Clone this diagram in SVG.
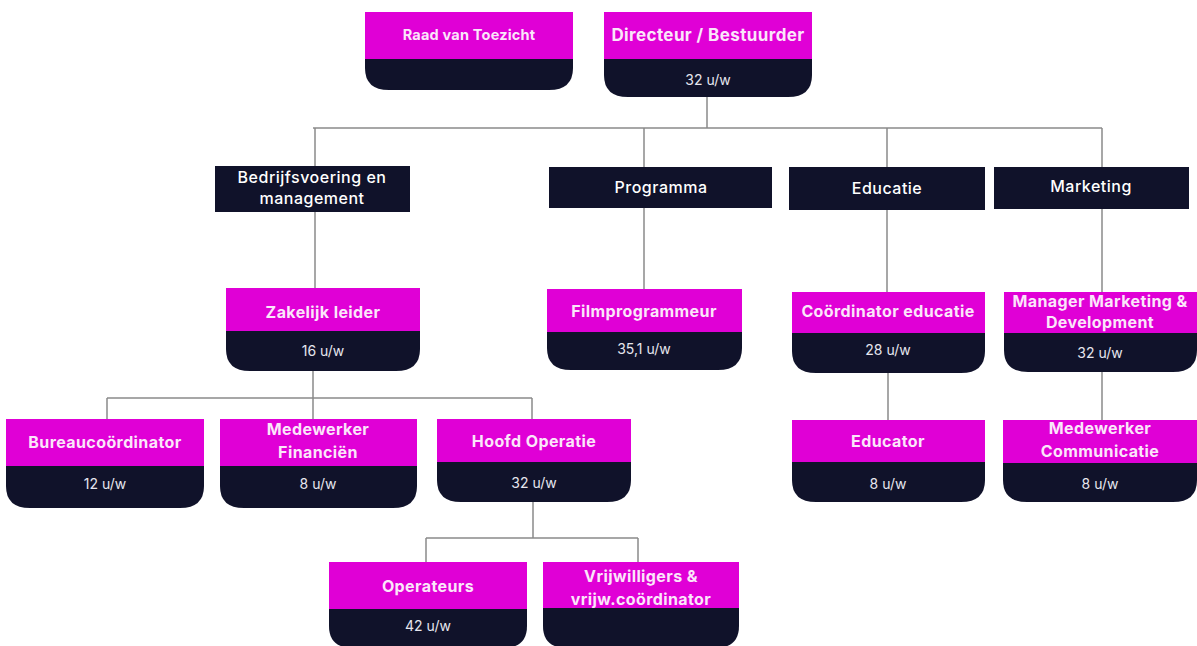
<svg xmlns="http://www.w3.org/2000/svg" width="1197" height="646" viewBox="0 0 1197 646">
<style>
.bg{fill:#ffffff}
.pink{fill:#e000d6}
.dark{fill:#10122a}
.t{font-family:Inter,"Noto Sans","DejaVu Sans",sans-serif;fill:#ffffff;text-anchor:middle}
.pt{font-size:16px;font-weight:700;fill:#fbe6fa;letter-spacing:0.4px}
.ct{font-size:16px;font-weight:500;letter-spacing:0.5px}
.ht{font-size:14px;font-weight:400;fill:#e6e6ee}
.ln{fill:none;stroke:#8a8a8a;stroke-width:1.5}
</style>
<rect class="bg" x="0" y="0" width="1197" height="646"/>
<g id="connectors">
<path class="ln" d="M707 97 V128 M313 128 H1102 M315 128 V167 M644 128 V167 M887 128 V167 M1102 128 V167"/>
<path class="ln" d="M315 212 V288 M644 208 V289 M887 210 V292 M1102 209 V292"/>
<path class="ln" d="M313 371 V398 M107 398 H532 M107 398 V419 M313 398 V419 M532 398 V419"/>
<path class="ln" d="M533 502 V538 M426 538 H638 M426 538 V562 M638 538 V562"/>
<path class="ln" d="M888 373 V420 M1102 372 V420"/>
</g>
<g id="raad">
<rect class="pink" x="365" y="12" width="208" height="47"/>
<path class="dark" d="M365 59 H573 V68 Q573 90 549 90 H389 Q365 90 365 68 Z"/>
<text class="t pt" x="469" y="40" style="font-size:14.5px;letter-spacing:0.2px">Raad van Toezicht</text>
</g>
<g id="directeur">
<rect class="pink" x="604" y="12" width="208" height="47"/>
<path class="dark" d="M604 59 H812 V75 Q812 97 788 97 H628 Q604 97 604 75 Z"/>
<text class="t pt" x="708" y="41" style="font-size:17px">Directeur / Bestuurder</text>
<text class="t ht" x="708" y="85">32 u/w</text>
</g>
<g id="bedrijfsvoering">
<rect class="dark" x="215" y="166" width="195" height="46"/>
<text class="t ct" x="312" y="183">Bedrijfsvoering en</text>
<text class="t ct" x="312" y="204">management</text>
</g>
<g id="programma">
<rect class="dark" x="549" y="167" width="223" height="41"/>
<text class="t ct" x="661" y="193">Programma</text>
</g>
<g id="educatie">
<rect class="dark" x="789" y="167" width="196" height="43"/>
<text class="t ct" x="887" y="194">Educatie</text>
</g>
<g id="marketing">
<rect class="dark" x="994" y="167" width="195" height="42"/>
<text class="t ct" x="1091" y="192">Marketing</text>
</g>
<g id="zakelijk">
<rect class="pink" x="226" y="288" width="194" height="43"/>
<path class="dark" d="M226 331 H420 V349 Q420 371 396 371 H250 Q226 371 226 349 Z"/>
<text class="t pt" x="323" y="318">Zakelijk leider</text>
<text class="t ht" x="323" y="356">16 u/w</text>
</g>
<g id="filmprogrammeur">
<rect class="pink" x="547" y="289" width="195" height="43"/>
<path class="dark" d="M547 332 H742 V348 Q742 370 718 370 H571 Q547 370 547 348 Z"/>
<text class="t pt" x="644" y="317">Filmprogrammeur</text>
<text class="t ht" x="644" y="354">35,1 u/w</text>
</g>
<g id="coordinator-educatie">
<rect class="pink" x="792" y="292" width="193" height="41"/>
<path class="dark" d="M792 333 H985 V351 Q985 373 961 373 H816 Q792 373 792 351 Z"/>
<text class="t pt" x="888" y="317">Coördinator educatie</text>
<text class="t ht" x="888" y="355">28 u/w</text>
</g>
<g id="manager-marketing">
<rect class="pink" x="1004" y="292" width="193" height="41"/>
<path class="dark" d="M1004 333 H1197 V350 Q1197 372 1173 372 H1028 Q1004 372 1004 350 Z"/>
<text class="t pt" x="1100" y="307">Manager Marketing &amp;</text>
<text class="t pt" x="1100" y="328">Development</text>
<text class="t ht" x="1100" y="358">32 u/w</text>
</g>
<g id="bureaucoordinator">
<rect class="pink" x="6" y="419" width="198" height="47"/>
<path class="dark" d="M6 466 H204 V486 Q204 508 180 508 H30 Q6 508 6 486 Z"/>
<text class="t pt" x="105" y="448">Bureaucoördinator</text>
<text class="t ht" x="105" y="489">12 u/w</text>
</g>
<g id="medewerker-financien">
<rect class="pink" x="220" y="419" width="197" height="47"/>
<path class="dark" d="M220 466 H417 V486 Q417 508 393 508 H244 Q220 508 220 486 Z"/>
<text class="t pt" x="318" y="435">Medewerker</text>
<text class="t pt" x="318" y="458">Financiën</text>
<text class="t ht" x="318" y="489">8 u/w</text>
</g>
<g id="hoofd-operatie">
<rect class="pink" x="437" y="419" width="194" height="43"/>
<path class="dark" d="M437 462 H631 V480 Q631 502 607 502 H461 Q437 502 437 480 Z"/>
<text class="t pt" x="534" y="447">Hoofd Operatie</text>
<text class="t ht" x="534" y="488">32 u/w</text>
</g>
<g id="educator">
<rect class="pink" x="792" y="420" width="193" height="42"/>
<path class="dark" d="M792 462 H985 V480 Q985 502 961 502 H816 Q792 502 792 480 Z"/>
<text class="t pt" x="888" y="447">Educator</text>
<text class="t ht" x="888" y="489">8 u/w</text>
</g>
<g id="medewerker-communicatie">
<rect class="pink" x="1003" y="420" width="194" height="43"/>
<path class="dark" d="M1003 463 H1197 V480 Q1197 502 1173 502 H1027 Q1003 502 1003 480 Z"/>
<text class="t pt" x="1100" y="434">Medewerker</text>
<text class="t pt" x="1100" y="457">Communicatie</text>
<text class="t ht" x="1100" y="489">8 u/w</text>
</g>
<g id="operateurs">
<rect class="pink" x="329" y="562" width="198" height="47"/>
<path class="dark" d="M329 609 H527 V626 Q527 648 503 648 H353 Q329 648 329 626 Z"/>
<text class="t pt" x="428" y="592">Operateurs</text>
<text class="t ht" x="428" y="631">42 u/w</text>
</g>
<g id="vrijwilligers">
<rect class="pink" x="543" y="562" width="196" height="46"/>
<path class="dark" d="M543 608 H739 V626 Q739 648 715 648 H567 Q543 648 543 626 Z"/>
<text class="t pt" x="641" y="582">Vrijwilligers &amp;</text>
<text class="t pt" x="641" y="605">vrijw.coördinator</text>
</g>
</svg>
